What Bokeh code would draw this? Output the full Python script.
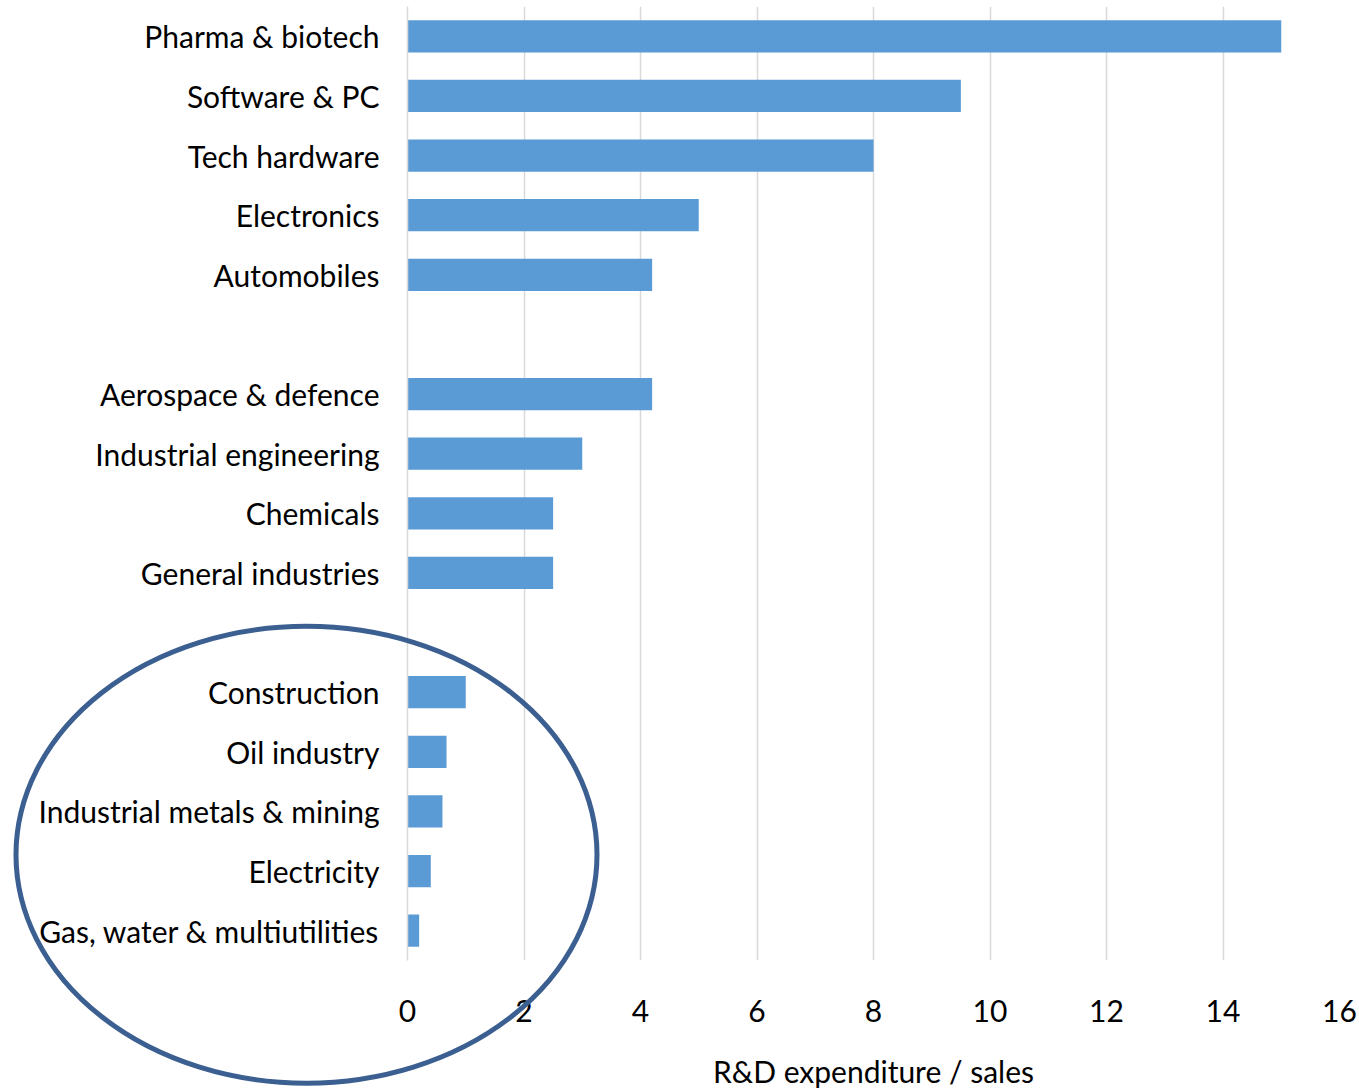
from bokeh.plotting import figure
from bokeh.models import ColumnDataSource, FactorRange, FixedTicker
from bokeh.embed import file_html
from bokeh.resources import INLINE

# R&D expenditure as a share of sales, by sector (three groups, separated by blank rows)
group_high = ["Pharma & biotech", "Software & PC", "Tech hardware", "Electronics", "Automobiles"]
values_high = [15.0, 9.5, 8.0, 5.0, 4.2]

group_mid = ["Aerospace & defence", "Industrial engineering", "Chemicals", "General industries"]
values_mid = [4.2, 3.0, 2.5, 2.5]

group_low = ["Construction", "Oil industry", "Industrial metals & mining", "Electricity",
             "Gas, water & multiutilities"]
values_low = [1.0, 0.67, 0.6, 0.4, 0.2]

x_ticks = [0, 2, 4, 6, 8, 10, 12, 14, 16]
x_title = "R&D expenditure / sales"

FONT = "Lato"
INK = "#000000"
BAR = "#5B9BD5"
RING = "#3B5F90"
GRID = "#D9D9D9"

# blank spacer rows between the groups
spacers = [" ", "  "]
rows = group_high + [spacers[0]] + group_mid + [spacers[1]] + group_low
sectors = group_high + group_mid + group_low
values = values_high + values_mid + values_low

src = ColumnDataSource(dict(sector=sectors, value=values))

p = figure(
    width=1359, height=1091,
    y_range=FactorRange(factors=rows[::-1], range_padding=0, factor_padding=0),
    x_range=(0, 16),
    output_backend="svg", toolbar_location=None,
    min_border_left=407, min_border_right=20, min_border_top=6, min_border_bottom=129,
)
p.hbar(y="sector", right="value", left=0, height=0.54, source=src,
       fill_color=BAR, line_color=None)

p.outline_line_color = None
p.background_fill_color = "white"
p.border_fill_color = "white"

p.ygrid.grid_line_color = None
p.xgrid.grid_line_color = GRID
p.xgrid.grid_line_width = 1.5
p.xaxis.ticker = FixedTicker(ticks=x_ticks)

p.xaxis.axis_line_color = None
p.xaxis.major_tick_line_color = None
p.xaxis.minor_tick_line_color = None
p.xaxis.major_tick_out = 0
p.xaxis.major_label_standoff = 39
p.xaxis.major_label_text_font = FONT
p.xaxis.major_label_text_font_size = "30px"
p.xaxis.major_label_text_color = INK
p.xaxis.axis_label = x_title
p.xaxis.axis_label_text_font = FONT
p.xaxis.axis_label_text_font_size = "30px"
p.xaxis.axis_label_text_font_style = "normal"
p.xaxis.axis_label_text_color = INK
p.xaxis.axis_label_standoff = 28

p.yaxis.axis_line_color = GRID
p.yaxis.axis_line_width = 1.5
p.yaxis.major_tick_line_color = None
p.yaxis.minor_tick_line_color = None
p.yaxis.major_tick_out = 0
p.yaxis.major_label_standoff = 28
p.yaxis.major_label_text_font = FONT
p.yaxis.major_label_text_font_size = "30px"
p.yaxis.major_label_text_color = INK

# ring around the low-intensity sectors; centre in value / row units, size in pixels
p.ellipse(x=[-1.734], y=[1.774], width=581, height=457,
          width_units="screen", height_units="screen",
          fill_color=None, line_color=RING, line_width=5, level="overlay")

open("out.html", "w").write(file_html(p, INLINE))
